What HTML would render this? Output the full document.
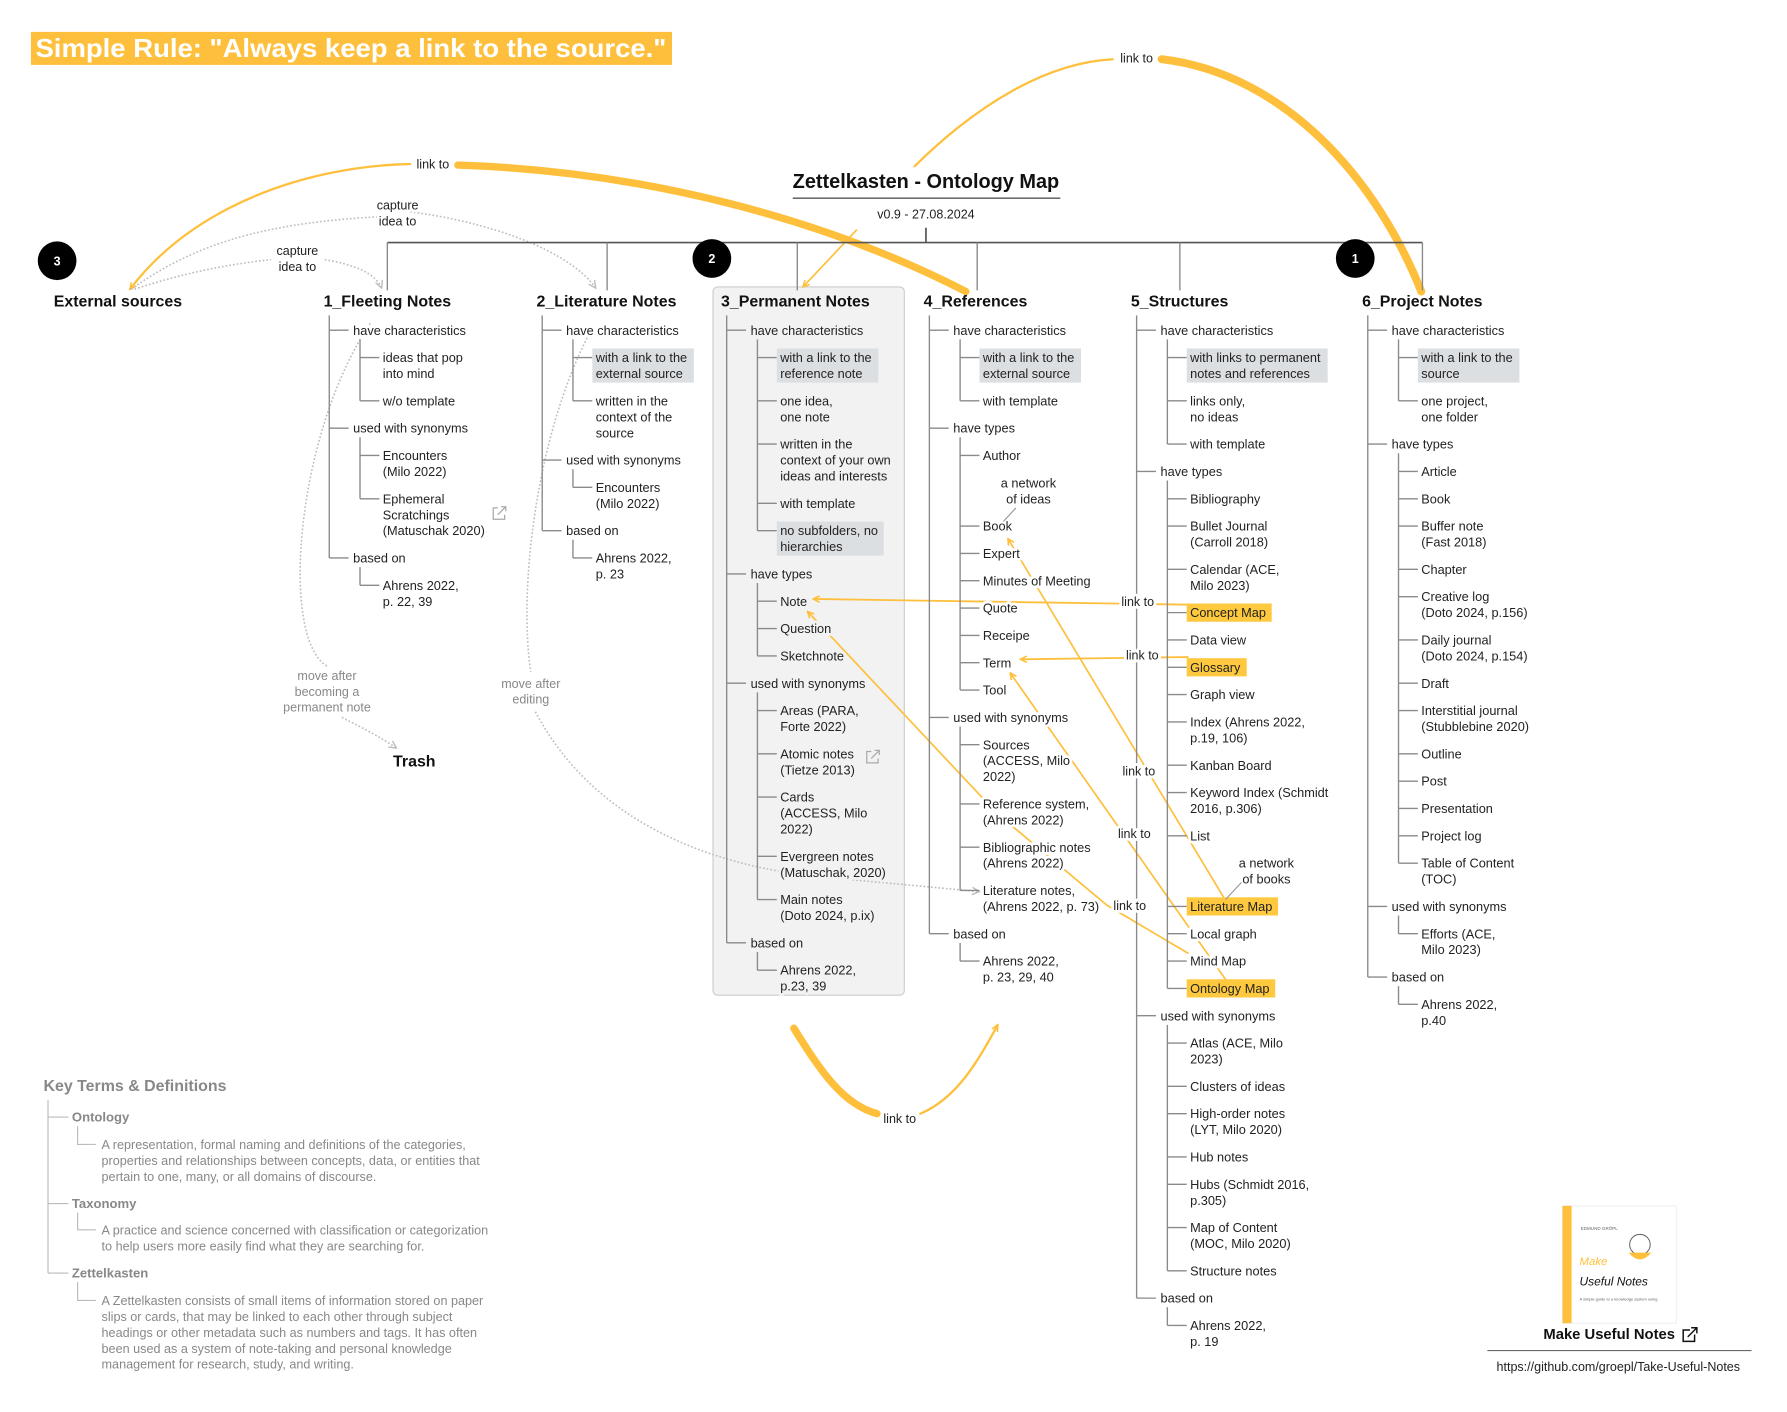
<!DOCTYPE html>
<html><head><meta charset="utf-8"><title>Zettelkasten - Ontology Map</title>
<style>
html,body{margin:0;padding:0;background:#fff;}
svg{display:block;font-family:"Liberation Sans",Arial,sans-serif;}
.t{font-size:11.2px;fill:#222;}
.halo{paint-order:stroke;stroke:#fff;stroke-width:5px;stroke-linejoin:round;}
.haloG{paint-order:stroke;stroke:#f2f2f2;stroke-width:5px;stroke-linejoin:round;}
.hdr{font-size:14px;font-weight:bold;fill:#111;}
.lbl{font-size:11px;fill:#222;}
.gray{font-size:11.1px;fill:#888;}
</style></head>
<body>
<svg id="map" width="1787" height="1412" viewBox="0 0 1569 1240" xmlns="http://www.w3.org/2000/svg">
<defs>
<marker id="arO" viewBox="0 0 10 10" refX="9" refY="5" markerWidth="7" markerHeight="7" orient="auto-start-reverse" markerUnits="userSpaceOnUse"><path d="M1,1 L9,5 L1,9" fill="none" stroke="#fec03c" stroke-width="2"/></marker>
<marker id="arG" viewBox="0 0 10 10" refX="9" refY="5" markerWidth="8" markerHeight="8" orient="auto" markerUnits="userSpaceOnUse"><path d="M1,1 L9,5 L1,9" fill="none" stroke="#bbb" stroke-width="1.5"/></marker>
</defs>

<rect x="27" y="28" width="563" height="29" fill="#fec03c"/>
<text x="31" y="50" font-size="23" font-weight="bold" fill="#fff" textLength="554" lengthAdjust="spacingAndGlyphs">Simple Rule: "Always keep a link to the source."</text>

<rect x="626" y="252" width="168" height="622" rx="4" fill="#f2f2f2" stroke="#ccc" stroke-width="1"/>

<g id="links"></g>
<g id="tree"></g>

<text x="813" y="165" text-anchor="middle" font-size="17.5" font-weight="bold" fill="#111">Zettelkasten - Ontology Map</text>
<line x1="696" y1="174" x2="931" y2="174" stroke="#555" stroke-width="1.2"/>
<text x="813" y="192" text-anchor="middle" class="lbl">v0.9 - 27.08.2024</text>

<g>
<text x="38" y="958" font-size="14" font-weight="bold" fill="#888">Key Terms &amp; Definitions</text>
<path d="M42,966 V1118 M42,981 H60 M42,1057 H60 M42,1118 H60 M68,989 V1005 H84 M68,1065 V1080 H84 M68,1126 V1142 H84" fill="none" stroke="#bbb" stroke-width="1"/>
<text x="63" y="985" font-size="11.5" font-weight="bold" fill="#888">Ontology</text>
<text class="gray"><tspan x="89" y="1009">A representation, formal naming and definitions of the categories,</tspan><tspan x="89" y="1023">properties and relationships between concepts, data, or entities that</tspan><tspan x="89" y="1037">pertain to one, many, or all domains of discourse.</tspan></text>
<text x="63" y="1061" font-size="11.5" font-weight="bold" fill="#888">Taxonomy</text>
<text class="gray"><tspan x="89" y="1084">A practice and science concerned with classification or categorization</tspan><tspan x="89" y="1098">to help users more easily find what they are searching for.</tspan></text>
<text x="63" y="1122" font-size="11.5" font-weight="bold" fill="#888">Zettelkasten</text>
<text class="gray"><tspan x="89" y="1146">A Zettelkasten consists of small items of information stored on paper</tspan><tspan x="89" y="1160">slips or cards, that may be linked to each other through subject</tspan><tspan x="89" y="1174">headings or other metadata such as numbers and tags. It has often</tspan><tspan x="89" y="1188">been used as a system of note-taking and personal knowledge</tspan><tspan x="89" y="1202">management for research, study, and writing.</tspan></text>
</g>

<g>
<rect x="1372" y="1059" width="100" height="103" fill="#fff" stroke="#f0f0f0"/>
<rect x="1372" y="1059" width="8" height="103" fill="#fec03c"/>
<text x="1388" y="1080" font-size="4" fill="#666">EDMUND GRÖPL</text>
<text x="1387" y="1111" font-size="10" fill="#fec03c" font-style="italic">Make</text>
<text x="1387" y="1129" font-size="10.5" fill="#111" font-style="italic">Useful Notes</text>
<text x="1387" y="1142" font-size="3.5" fill="#666">A simple guide to a knowledge system using</text>
<circle cx="1440" cy="1093" r="9" fill="none" stroke="#555" stroke-width="0.8"/>
<path d="M1430,1100 Q1440,1112 1450,1100 Z" fill="#fec03c"/>
<text x="1413" y="1176" text-anchor="middle" font-size="13" font-weight="bold" fill="#111">Make Useful Notes</text>
<path d="M1484,1168 H1478 V1178 H1488 V1172 M1482,1174 L1490,1166 M1485,1166 H1490 V1171" fill="none" stroke="#111" stroke-width="1.3"/>
<line x1="1306" y1="1186" x2="1538" y2="1186" stroke="#666" stroke-width="1"/>
<text x="1421" y="1204" text-anchor="middle" font-size="11" fill="#222">https://github.com/groepl/Take-Useful-Notes</text>
</g>
</svg>
<script>
var NS='http://www.w3.org/2000/svg';
var svg=document.getElementById('map');
var linkG=document.getElementById('links');
var treeG=document.getElementById('tree');
function mk(tag,attrs,parent){var e=document.createElementNS(NS,tag);for(var k in attrs)e.setAttribute(k,attrs[k]);(parent||svg).appendChild(e);return e;}

// ---- data: column headers and item lists ----
var colNames=['1_Fleeting Notes','2_Literature Notes','3_Permanent Notes','4_References','5_Structures','6_Project Notes'];
var colX=[289,476,638,816,998,1201];
var fleeting=[[1,'have characteristics'],[2,'ideas that pop|into mind'],[2,'w/o template'],[1,'used with synonyms'],[2,'Encounters|(Milo 2022)'],[2,'Ephemeral|Scratchings|(Matuschak 2020)'],[1,'based on'],[2,'Ahrens 2022,|p. 22, 39']];
var literature=[[1,'have characteristics'],[2,'with a link to the|external source','g'],[2,'written in the|context of the|source'],[1,'used with synonyms'],[2,'Encounters|(Milo 2022)'],[1,'based on'],[2,'Ahrens 2022,|p. 23']];
var permanent=[[1,'have characteristics'],[2,'with a link to the|reference note','g'],[2,'one idea,|one note'],[2,'written in the|context of your own|ideas and interests'],[2,'with template'],[2,'no subfolders, no|hierarchies','g'],[1,'have types'],[2,'Note'],[2,'Question'],[2,'Sketchnote'],[1,'used with synonyms'],[2,'Areas (PARA,|Forte 2022)'],[2,'Atomic notes|(Tietze 2013)'],[2,'Cards|(ACCESS, Milo|2022)'],[2,'Evergreen notes|(Matuschak, 2020)'],[2,'Main notes|(Doto 2024, p.ix)'],[1,'based on'],[2,'Ahrens 2022,|p.23, 39']];
var references=[[1,'have characteristics'],[2,'with a link to the|external source','g'],[2,'with template'],[1,'have types'],[2,'Author'],[2,'a network|of ideas','n903'],[2,'Book'],[2,'Expert'],[2,'Minutes of Meeting'],[2,'Quote'],[2,'Receipe'],[2,'Term'],[2,'Tool'],[1,'used with synonyms'],[2,'Sources|(ACCESS, Milo|2022)'],[2,'Reference system,|(Ahrens 2022)'],[2,'Bibliographic notes|(Ahrens 2022)'],[2,'Literature notes,|(Ahrens 2022, p. 73)'],[1,'based on'],[2,'Ahrens 2022,|p. 23, 29, 40']];
var structures=[[1,'have characteristics'],[2,'with links to permanent|notes and references','g'],[2,'links only,|no ideas'],[2,'with template'],[1,'have types'],[2,'Bibliography'],[2,'Bullet Journal|(Carroll 2018)'],[2,'Calendar (ACE,|Milo 2023)'],[2,'Concept Map','y'],[2,'Data view'],[2,'Glossary','y'],[2,'Graph view'],[2,'Index (Ahrens 2022,|p.19, 106)'],[2,'Kanban Board'],[2,'Keyword Index (Schmidt|2016, p.306)'],[2,'List'],[2,'a network|of books','n1112'],[2,'Literature Map','y'],[2,'Local graph'],[2,'Mind Map'],[2,'Ontology Map','y'],[1,'used with synonyms'],[2,'Atlas (ACE, Milo|2023)'],[2,'Clusters of ideas'],[2,'High-order notes|(LYT, Milo 2020)'],[2,'Hub notes'],[2,'Hubs (Schmidt 2016,|p.305)'],[2,'Map of Content|(MOC, Milo 2020)'],[2,'Structure notes'],[1,'based on'],[2,'Ahrens 2022,|p. 19']];
var project=[[1,'have characteristics'],[2,'with a link to the|source','g'],[2,'one project,|one folder'],[1,'have types'],[2,'Article'],[2,'Book'],[2,'Buffer note|(Fast 2018)'],[2,'Chapter'],[2,'Creative log|(Doto 2024, p.156)'],[2,'Daily journal|(Doto 2024, p.154)'],[2,'Draft'],[2,'Interstitial journal|(Stubblebine 2020)'],[2,'Outline'],[2,'Post'],[2,'Presentation'],[2,'Project log'],[2,'Table of Content|(TOC)'],[1,'used with synonyms'],[2,'Efforts (ACE,|Milo 2023)'],[1,'based on'],[2,'Ahrens 2022,|p.40']];
var columns=[fleeting,literature,permanent,references,structures,project];
var branchX=[340,533,700,858,1036,1249];
var badges=[['3',50,229],['2',625,227],['1',1190,227]];
var linkLabels=[[998,51],[380,144],[790,982],[999,528],[1003,575],[1000,677],[996,732],[992,795]];

// ---- link curves (drawn first) ----
function lp(d,w,col,name,mEnd,dash){var p=mk('path',{d:d,fill:'none',stroke:col,'stroke-width':w,'stroke-linecap':'round'},linkG);


if(mEnd)p.setAttribute('marker-end',mEnd);if(dash){p.setAttribute('stroke-dasharray',dash);p.setAttribute('stroke-linecap','butt');}return p;}
var O='#fec03c',G='#bdbdbd',D='1.5,1.8';
lp('M360,144 C270,146 170,180 114,254',2,O,'link-ext-thin','url(#arO)');
lp('M402,145 C560,150 720,190 848,256',6.5,O,'link-ext-thick');
lp('M977,52 C920,55 860,90 803,146',2,O,'link-proj-thin');
lp('M752,202 L705,252',1.5,O,'link-proj-arrow','url(#arO)');
lp('M1020,52 C1130,65 1210,160 1248,256',7,O,'link-proj-thick');
lp('M697,903 C720,940 740,970 770,978',6.5,O,'link-bottom-thick');
lp('M808,978 C840,965 860,930 876,900',2,O,'link-bottom-thin','url(#arO)');
lp('M1043,531 L714,526',1.6,O,'link-concept-note','url(#arO)');
lp('M1043,577 L896,579',1.6,O,'link-glossary-term','url(#arO)');
lp('M862,700 L709,537',1.5,O,'link-refsys-note','url(#arO)');
lp('M1075,789 L885,473',1.5,O,'link-litmap-book','url(#arO)');
lp('M1076,860 L887,591',1.5,O,'link-ontomap-term','url(#arO)');
lp('M887,724 Q930,760 972,795 L1043,837',1.5,O,'link-litnotes-mindmap');
lp('M115,254 C170,215 230,195 340,190',1.4,G,'capture-dotted-lit',null,D);
lp('M360,186 C430,195 500,220 523,253',1.4,G,'capture-dotted-lit-end','url(#arG)',D);
lp('M118,254 C160,240 200,232 238,228',1.4,G,'capture-dotted-fleet',null,D);
lp('M285,228 C310,232 330,240 335,253',1.4,G,'capture-dotted-fleet-end','url(#arG)',D);
lp('M325,284 C260,380 245,560 287,585',1.4,G,'move-to-trash',null,D);
lp('M300,630 C320,640 335,648 348,657',1.4,G,'move-to-trash-end','url(#arG)',D);
lp('M520,288 C470,380 455,520 466,590',1.4,G,'move-after-editing',null,D);
lp('M470,625 C520,720 620,760 720,770 L860,783',1.4,G,'move-after-editing-end','url(#arG)',D);

// ---- top bracket ----
var br=mk('path',{d:'M813,200 V213 M340,213 H1249',fill:'none',stroke:'#555','stroke-width':1.5},treeG);


branchX.forEach(function(x){var l=mk('line',{x1:x,y1:213,x2:x,y2:255,stroke:'#888','stroke-width':1.2},treeG);

});

// ---- badges ----
badges.forEach(function(b){var c=mk('circle',{cx:b[1],cy:b[2],r:17,fill:'#000'},treeG);


var t=mk('text',{x:b[1],y:b[2]+4,'text-anchor':'middle','font-size':11,'font-weight':'bold',fill:'#fff'},treeG);t.textContent=b[0];

});

// ---- headers ----
function hdr(txt,x,y){var t=mk('text',{x:x,y:y,class:'hdr'},treeG);t.textContent=txt;

return t;}
hdr('External sources',47,269);hdr('Trash',345,673);
colNames.forEach(function(n,i){hdr(n,colX[i]-5,269);});

// ---- trees ----
var lineC='#8a8a8a';
function drawTree(items,x0,inBox){
  var y=290,pos=[];
  items.forEach(function(it){var n=it[1].split('|').length;pos.push(y);y+=n*14+10;});
  var lastL1=0;items.forEach(function(it,i){if(it[0]==1)lastL1=pos[i];});
  var v=mk('line',{x1:x0,y1:277,x2:x0,y2:lastL1,stroke:lineC,'stroke-width':1.2},treeG);
  
  
  var groups=[];items.forEach(function(it,i){if(it[0]==1){groups.push({p:i,c:[]});}else groups[groups.length-1].c.push(i);});
  groups.forEach(function(g){
    var yy=pos[g.p];
    var h=mk('line',{x1:x0,y1:yy,x2:x0+17,y2:yy,stroke:lineC,'stroke-width':1.2},treeG);
    
    
    var conn=g.c.filter(function(i){var s=items[i][2];return !(s&&s[0]=='n');});
    if(conn.length){var last=pos[conn[conn.length-1]];
      var vv=mk('line',{x1:x0+27,y1:yy+8,x2:x0+27,y2:last,stroke:lineC,'stroke-width':1.2},treeG);
      
      
      conn.forEach(function(i){var hh=mk('line',{x1:x0+27,y1:pos[i],x2:x0+44,y2:pos[i],stroke:lineC,'stroke-width':1.2},treeG);
        
        });}
  });
  items.forEach(function(it,i){
    var lines=it[1].split('|'),s=it[2]||'',tx=it[0]==1?x0+21:x0+47,yy=pos[i];
    var anchor='start';
    if(s[0]=='n'){tx=+s.slice(1);anchor='middle';}
    var t=mk('text',{x:tx,y:yy+4,class:'t '+((s=='g'||s=='y')?'':(inBox?'haloG':'halo')),'text-anchor':anchor},treeG);
    
    
    lines.forEach(function(L,j){var sp=mk('tspan',{x:tx,dy:j?14:0},t);sp.textContent=L;});
    if(s=='g'||s=='y'){var bb=t.getBBox();
      var r=mk('rect',{x:tx-3,y:yy-8,width:bb.width+8,height:lines.length*14+2,fill:s=='g'?'#dcdfe2':'#fec93f'},treeG);
      
      
      treeG.insertBefore(r,t);}
  });
}
columns.forEach(function(c,i){drawTree(c,colX[i],i==2);});

var ac=mk('path',{d:'M892,446 L881,458 M1090,775 L1076,790',stroke:'#999','stroke-width':1,fill:'none'},treeG);


[[438,451],[766,665]].forEach(function(p){var ic=mk('path',{d:'M'+(p[0]-1)+','+(p[1]-5)+' H'+(p[0]-5)+' V'+(p[1]+5)+' H'+(p[0]+5)+' V'+(p[1]+1)+' M'+(p[0]-1)+','+(p[1]+1)+' L'+(p[0]+6)+','+(p[1]-6)+' M'+(p[0]+2)+','+(p[1]-6)+' H'+(p[0]+6)+' V'+(p[1]-2),fill:'none',stroke:'#aaa','stroke-width':1.1},treeG);

});

// ---- link labels ----
linkLabels.forEach(function(p){var t=mk('text',{x:p[0],y:p[1]+4,'text-anchor':'middle',class:'lbl halo'},treeG);t.textContent='link to';

});
function multi(lines,x,y,name){var t=mk('text',{x:x,y:y,'text-anchor':'middle',class:'lbl halo'},treeG);


lines.forEach(function(L,j){var sp=mk('tspan',{x:x,dy:j?14:0},t);sp.textContent=L;});return t;}
multi(['capture','idea to'],349,184,'capture-idea-label');
multi(['capture','idea to'],261,224,'capture-idea-label');
var m1=multi(['move after','becoming a','permanent note'],287,597,'move-after-label');m1.style.fill='#888';
var m2=multi(['move after','editing'],466,604,'move-after-label');m2.style.fill='#888';
</script>
</body></html>
